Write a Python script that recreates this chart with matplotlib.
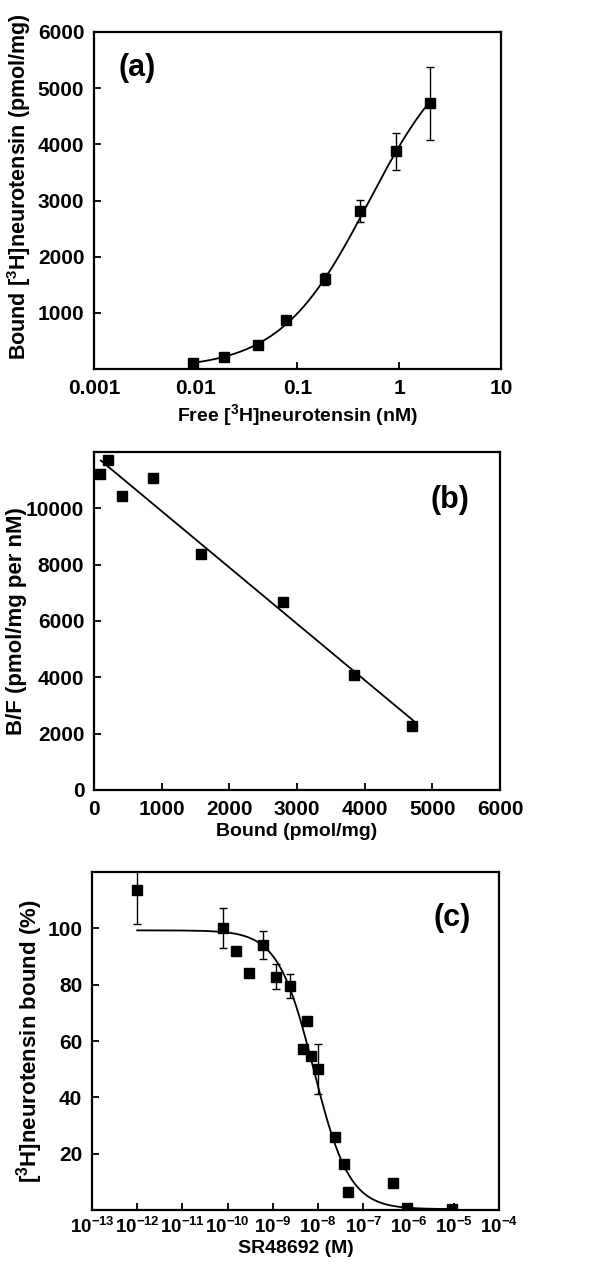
import numpy as np
import matplotlib
matplotlib.use('Agg')
import matplotlib.pyplot as plt
from matplotlib.ticker import FixedLocator, NullLocator

plt.rcParams['font.family'] = ['Liberation Sans', 'DejaVu Sans']
plt.rcParams['font.weight'] = 'bold'
plt.rcParams['axes.labelweight'] = 'bold'
plt.rcParams['mathtext.fontset'] = 'custom'
plt.rcParams['mathtext.rm'] = 'Liberation Sans:bold'
plt.rcParams['mathtext.it'] = 'Liberation Sans:bold'
plt.rcParams['mathtext.bf'] = 'Liberation Sans:bold'
plt.rcParams['mathtext.default'] = 'rm'

# --- (a) saturation binding ---
free_nM = [0.0095, 0.0188, 0.0406, 0.0777, 0.186, 0.411, 0.922, 2.0]
bound = [107, 208, 421, 878, 1608, 2810, 3875, 4727]
bound_err = [0, 0, 0, 0, 110, 200, 327, 644]
bmax = 5950      # pmol/mg, fitted
kd = 0.5         # nM, fitted

# --- (b) Scatchard ---
scat_bound = [89, 212, 419, 867, 1581, 2788, 3847, 4704]
scat_bf = [11220, 11716, 10440, 11065, 8390, 6686, 4083, 2284]
scat_line_x = [100, 4720]

# --- (c) competition with SR48692 ---
sr_conc = [1e-12, 7.8e-11, 1.54e-10, 3.04e-10, 6.0e-10, 1.18e-9, 2.4e-9,
           4.74e-9, 5.6e-9, 7.0e-9, 9.7e-9, 2.33e-8, 3.75e-8, 4.68e-8,
           4.6e-7, 9.2e-7, 9.3e-6]
sr_bound = [113.7, 100.2, 92.1, 84.1, 94.2, 82.9, 79.5,
            57.0, 67.1, 54.7, 50.1, 25.8, 16.3, 6.3,
            9.7, 0.8, 0.4]
sr_err = [12.2, 7.2, 0, 1.5, 5.0, 4.5, 4.2,
          0, 0, 0, 9.0, 0, 0, 0,
          0, 0, 0]
top, bottom = 99.3, 0.3
ic50 = 8e-9
hill = 1.1

fig = plt.figure(figsize=(6.08, 12.69), dpi=100)
ax1 = fig.add_axes([0.1546, 0.7092, 0.6694, 0.2656])
ax2 = fig.add_axes([0.1546, 0.3775, 0.6678, 0.2663])
ax3 = fig.add_axes([0.1513, 0.0465, 0.6694, 0.2663])


def style(ax):
    for s in ax.spines.values():
        s.set_linewidth(1.6)
    ax.tick_params(direction='in', length=5, width=1.3, top=False, right=False,
                   labelsize=15, pad=7)
    ax.xaxis.set_minor_locator(NullLocator())
    ax.yaxis.set_minor_locator(NullLocator())


mk = dict(fmt='s', color='black', markersize=7, capsize=3, elinewidth=1, capthick=1)

# (a)
xs = np.logspace(np.log10(free_nM[0]), np.log10(free_nM[-1]), 200)
ax1.plot(xs, bmax * xs / (kd + xs), color='black', lw=1.3)
ax1.errorbar(free_nM, bound, yerr=bound_err, **mk)
ax1.set_xscale('log')
ax1.set_xlim(0.001, 10)
ax1.set_ylim(0, 6000)
ax1.xaxis.set_major_locator(FixedLocator([0.001, 0.01, 0.1, 1, 10]))
ax1.set_xticklabels(['0.001', '0.01', '0.1', '1', '10'])
ax1.yaxis.set_major_locator(FixedLocator([1000, 2000, 3000, 4000, 5000, 6000]))
style(ax1)
ax1.set_xlabel(r'Free [$^3$H]neurotensin (nM)', fontsize=14, labelpad=3)
ax1.set_ylabel(r'Bound [$^3$H]neurotensin (pmol/mg)', fontsize=15.5)
ax1.yaxis.set_label_coords(-0.15, 0.54)
ax1.text(0.106, 0.893, '(a)', transform=ax1.transAxes, fontsize=22,
         ha='center', va='center')

# (b)
lx = np.array(scat_line_x, dtype=float)
ax2.plot(lx, (bmax - lx) / kd, color='black', lw=1.3)
ax2.plot(scat_bound, scat_bf, 's', color='black', markersize=7)
ax2.set_xlim(0, 6000)
ax2.set_ylim(0, 12000)
ax2.xaxis.set_major_locator(FixedLocator(range(0, 6001, 1000)))
ax2.yaxis.set_major_locator(FixedLocator(range(0, 10001, 2000)))
style(ax2)
ax2.set_xlabel('Bound (pmol/mg)', fontsize=14, labelpad=3)
ax2.set_ylabel('B/F (pmol/mg per nM)', fontsize=16)
ax2.yaxis.set_label_coords(-0.165, 0.5)
ax2.text(0.877, 0.858, '(b)', transform=ax2.transAxes, fontsize=22,
         ha='center', va='center')

# (c)
cx = np.logspace(-12, -5, 300)
ax3.plot(cx, bottom + (top - bottom) / (1 + (cx / ic50) ** hill), color='black', lw=1.3)
ax3.errorbar(sr_conc, sr_bound, yerr=sr_err, **mk)
ax3.set_xscale('log')
ax3.set_xlim(1e-13, 1e-4)
ax3.set_ylim(0, 120)
exps = list(range(-13, -3))
ax3.xaxis.set_major_locator(FixedLocator([10.0 ** e for e in exps]))
ax3.set_xticklabels([r'$10^{%d}$' % e for e in exps])
ax3.yaxis.set_major_locator(FixedLocator([20, 40, 60, 80, 100]))
style(ax3)
ax3.tick_params(axis='x', labelsize=13.5, pad=5)
ax3.set_xlabel('SR48692 (M)', fontsize=14, labelpad=2)
ax3.set_ylabel(r'[$^3$H]neurotensin bound (%)', fontsize=16)
ax3.yaxis.set_label_coords(-0.115, 0.5)
ax3.text(0.885, 0.864, '(c)', transform=ax3.transAxes, fontsize=22,
         ha='center', va='center')

fig.savefig('out.png', dpi=100)
